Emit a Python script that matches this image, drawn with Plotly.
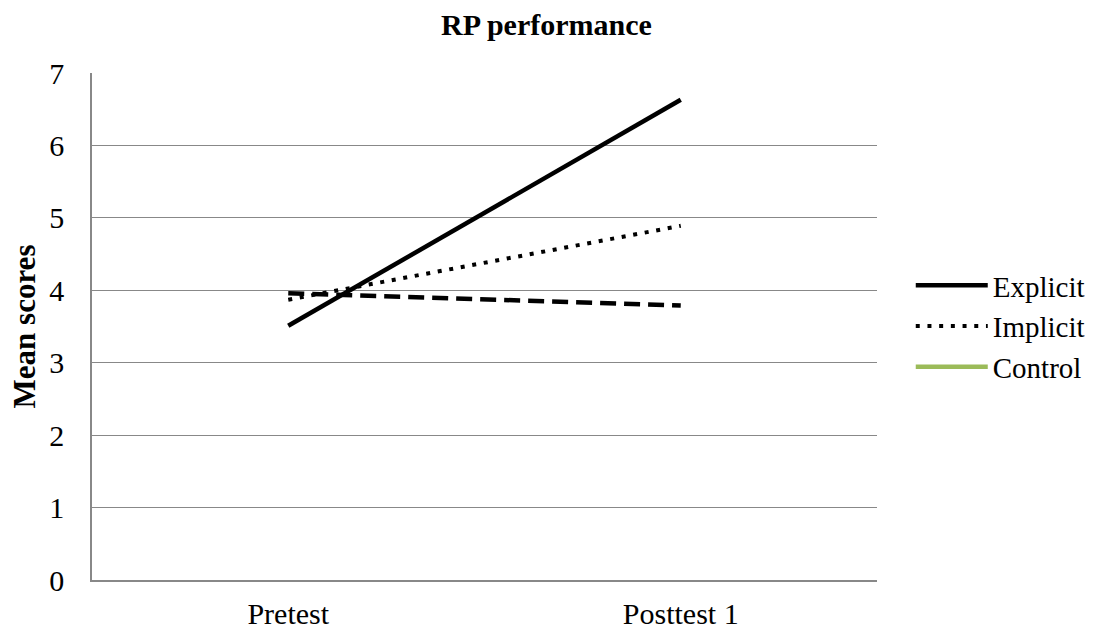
import plotly.graph_objects as go

categories = ["Pretest", "Posttest 1"]
explicit = [3.51, 6.63]
implicit = [3.87, 4.89]
control = [3.96, 3.79]
y_ticks = [0, 1, 2, 3, 4, 5, 6, 7]

font_family = "Liberation Serif, Times New Roman, serif"

fig = go.Figure()
fig.add_trace(go.Scatter(x=categories, y=explicit, mode="lines", name="Explicit",
                         line=dict(color="black", width=4.5)))
fig.add_trace(go.Scatter(x=categories, y=implicit, mode="lines", name="Implicit",
                         line=dict(color="black", width=4, dash="4px,7.7px")))
fig.add_trace(go.Scatter(x=categories, y=control, mode="lines", name="Control",
                         showlegend=False, legendgroup="control",
                         line=dict(color="black", width=4.5, dash="16px,8px")))
# Legend entry for Control as it appears in the original (green)
fig.add_trace(go.Scatter(x=categories, y=[None, None], mode="lines", name="Control",
                         legendgroup="control",
                         line=dict(color="#9bbb59", width=4.5)))

fig.update_layout(
    width=1104, height=639,
    margin=dict(l=92, r=227, t=73, b=59, autoexpand=False),
    paper_bgcolor="white", plot_bgcolor="white",
    font=dict(family=font_family, size=30, color="black"),
    title=dict(text="<b>RP performance</b>", x=0.495, xref="container", xanchor="center",
               y=0.962, yanchor="middle", font=dict(size=30)),
    showlegend=True,
    legend=dict(x=1.043, xanchor="left", y=0.5, yanchor="middle",
                font=dict(size=29), itemwidth=72, tracegroupgap=0,
                bgcolor="rgba(0,0,0,0)"),
    xaxis=dict(range=[-0.5, 1.5], showgrid=False, showline=True, linecolor="#888888",
               linewidth=1.5, ticks="", tickfont=dict(size=30), zeroline=False,
               ticklabelstandoff=6, automargin=False),
    yaxis=dict(range=[0, 7], tickvals=y_ticks, showgrid=True, gridcolor="#888888",
               gridwidth=1.2, showline=True, linecolor="#888888", linewidth=1.5,
               ticks="", zeroline=False, tickfont=dict(size=30),
               ticklabelstandoff=20, automargin=False,
               title=dict(text="<b>Mean scores</b>", font=dict(size=31), standoff=4)),
)

fig.write_html("out.html")
